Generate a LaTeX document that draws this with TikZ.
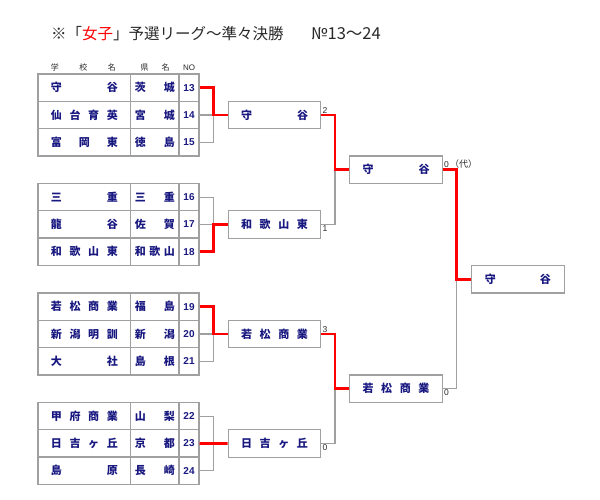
\documentclass[tikz,border=0pt]{standalone}
\usepackage{fontspec}
\setmainfont{Liberation Sans}
\newfontfamily\jp{Noto Sans CJK JP}
\definecolor{navy}{RGB}{24,24,128}
\definecolor{tabgray}{RGB}{160,160,160}
\definecolor{hred}{RGB}{255,0,0}
\definecolor{txtgray}{RGB}{40,40,40}
\tikzset{
  cell/.style={draw=tabgray, line width=1.3pt, minimum height=27.3pt, inner sep=0pt, text=navy, font=\bfseries\fontsize{10}{13}\selectfont},
  winbox/.style={draw=tabgray, line width=1.3pt, minimum height=27.4pt, minimum width=92.5pt, inner sep=0pt, text=navy, font=\jp\bfseries\fontsize{11}{13}\selectfont},
  glink/.style={draw=tabgray, line width=1.2pt},
  rlink/.style={draw=hred, line width=2.6pt},
  score/.style={text=txtgray, font=\fontsize{8.5}{10}\selectfont, inner sep=1pt},
  hdr/.style={text=txtgray, font=\fontsize{8}{9}\selectfont, inner sep=0pt}
}
\newcommand\teamrow[5]{%
  \node[cell,minimum width=92.7pt] (s#1) at (84.35,#2) {\jp\bfseries\fontsize{11}{13}\selectfont\makebox[67pt]{#3}};
  \node[cell,minimum width=48.3pt] (p#1) at (154.85,#2) {\jp\bfseries\fontsize{11}{13}\selectfont\makebox[40pt]{#4}};
  \node[cell,minimum width=20pt] (n#1) at (189,#2) {#5};
}
\begin{document}
\begin{tikzpicture}[x=1pt,y=-1pt]
\useasboundingbox (0,0) rectangle (600,500);
% title
\node[anchor=west, inner sep=0pt, text=txtgray, font=\jp\fontsize{15.5}{17}\selectfont] (title) at (51,34)
  {※「\textcolor{hred}{女子}」予選リーグ〜準々決勝};
\node[anchor=west, inner sep=0pt, text=txtgray, font=\jp\fontsize{16.5}{17}\selectfont] (title2) at (311,34)
  {№13〜24};
% headers
\node[hdr] (h1) at (83.3,67.5) {\jp\makebox[65pt]{学\hfill 校\hfill 名}};
\node[hdr] (h2) at (155,67.5) {\jp\makebox[29pt]{県\hfill 名}};
\node[hdr] (h3) at (189,67.5) {NO};
% group 1
\teamrow{13}{87.65}{守\hfill 谷}{茨\hfill 城}{13}
\teamrow{14}{114.95}{仙\hfill 台\hfill 育\hfill 英}{宮\hfill 城}{14}
\teamrow{15}{142.25}{富\hfill 岡\hfill 東}{徳\hfill 島}{15}
% group 2
\teamrow{16}{197.15}{三\hfill 重}{三\hfill 重}{16}
\teamrow{17}{224.45}{龍\hfill 谷}{佐\hfill 賀}{17}
\teamrow{18}{251.75}{和\hfill 歌\hfill 山\hfill 東}{和\hfill 歌\hfill 山}{18}
% group 3
\teamrow{19}{306.65}{若\hfill 松\hfill 商\hfill 業}{福\hfill 島}{19}
\teamrow{20}{333.95}{新\hfill 潟\hfill 明\hfill 訓}{新\hfill 潟}{20}
\teamrow{21}{361.25}{大\hfill 社}{島\hfill 根}{21}
% group 4
\teamrow{22}{416.15}{甲\hfill 府\hfill 商\hfill 業}{山\hfill 梨}{22}
\teamrow{23}{443.45}{日\hfill 吉\hfill ヶ\hfill 丘}{京\hfill 都}{23}
\teamrow{24}{470.75}{島\hfill 原}{長\hfill 崎}{24}
% round 1 winners
\node[winbox] (w1) at (274.5,115) {\makebox[67pt]{守\hfill 谷}};
\node[winbox] (w2) at (274.5,224.5) {\makebox[67pt]{和\hfill 歌\hfill 山\hfill 東}};
\node[winbox] (w3) at (274.5,334) {\makebox[67pt]{若\hfill 松\hfill 商\hfill 業}};
\node[winbox] (w4) at (274.5,443.5) {\makebox[67pt]{日\hfill 吉\hfill ヶ\hfill 丘}};
% semis
\node[winbox] (m1) at (396,169.75) {\makebox[67pt]{守\hfill 谷}};
\node[winbox] (m2) at (396,388.75) {\makebox[67pt]{若\hfill 松\hfill 商\hfill 業}};
% final
\node[winbox, minimum width=93pt] (f) at (517.8,279.25) {\makebox[66pt]{守\hfill 谷}};
% bracket coordinates
\coordinate (b1) at (213.3,115);
\coordinate (b2) at (213.3,224.5);
\coordinate (b3) at (213.3,334);
\coordinate (b4) at (213.3,443.5);
\coordinate (c1) at (335,169.75);
\coordinate (c2) at (335,388.75);
\coordinate (d1) at (456.7,279.25);
% gray links
\draw[glink] (n14.east) -- (n14.east -| b1) -- (n15.east -| b1) -- (n15.east);
\draw[glink] (n16.east) -- (n16.east -| b2) -- (b2);
\draw[glink] (n17.east) -- (n17.east -| b2);
\draw[glink] (n20.east) -- (n20.east -| b3) -- (n21.east -| b3) -- (n21.east);
\draw[glink] (n22.east) -- (n22.east -| b4) -- (n24.east -| b4) -- (n24.east);
\draw[glink] (w2.east) -- (w2.east -| c1) -- (c1);
\draw[glink] (w4.east) -- (w4.east -| c2) -- (c2);
\draw[glink] (m2.east) -- (m2.east -| d1) -- (d1);
% red links
\draw[rlink] (n13.east) -- (n13.east -| b1) -- (b1) -- (w1.west);
\draw[rlink] (n18.east) -- (n18.east -| b2) -- (b2) -- (w2.west);
\draw[rlink] (n19.east) -- (n19.east -| b3) -- (b3) -- (w3.west);
\draw[rlink] (n23.east) -- (w4.west);
\draw[rlink] (w1.east) -- (w1.east -| c1) -- (c1) -- (m1.west);
\draw[rlink] (w3.east) -- (w3.east -| c2) -- (c2) -- (m2.west);
\draw[rlink] (m1.east) -- (m1.east -| d1) -- (d1) -- (f.west);
% scores
\node[score, anchor=south west] (sc1) at (w1.east) {2};
\node[score, anchor=north west] (sc2) at (w2.east) {1};
\node[score, anchor=south west] (sc3) at (w3.east) {3};
\node[score, anchor=north west] (sc4) at (w4.east) {0};
\node[score, anchor=south west] (sc5) at (m1.east) {0\,{\jp\fontsize{9}{10}\selectfont（代）}};
\node[score, anchor=north west] (sc6) at (m2.east) {0};
\end{tikzpicture}
\end{document}
